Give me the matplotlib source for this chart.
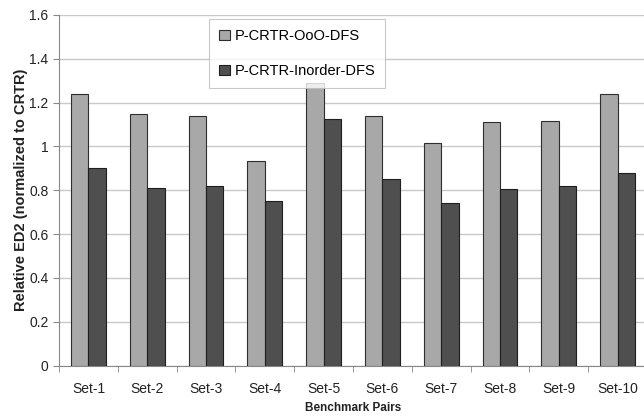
import numpy as np
import matplotlib
matplotlib.use("Agg")
import matplotlib.pyplot as plt
from matplotlib.ticker import FuncFormatter

plt.rcParams["font.family"] = ["Liberation Sans", "DejaVu Sans"]

sets = ["Set-1", "Set-2", "Set-3", "Set-4", "Set-5",
        "Set-6", "Set-7", "Set-8", "Set-9", "Set-10"]
ooo_dfs = [1.24, 1.15, 1.14, 0.935, 1.29, 1.14, 1.015, 1.11, 1.115, 1.24]
inorder_dfs = [0.90, 0.81, 0.82, 0.75, 1.125, 0.85, 0.74, 0.805, 0.82, 0.88]

fig = plt.figure(figsize=(6.44, 4.17), dpi=100)
ax = fig.add_axes([59 / 644, 1 - 365.5 / 417, 588 / 644, 350.5 / 417])

x = np.arange(len(sets))
w = 0.295
ax.bar(x - w / 2, ooo_dfs, w, color="#a8a8a8", edgecolor="#2e2e2e", linewidth=0.8,
       label="P-CRTR-OoO-DFS", zorder=3)
ax.bar(x + w / 2, inorder_dfs, w, color="#4f4f4f", edgecolor="#1e1e1e", linewidth=0.8,
       label="P-CRTR-Inorder-DFS", zorder=3)

ax.set_xlim(-0.5, len(sets) - 0.5)
ax.set_ylim(0, 1.6)
ax.set_yticks(np.arange(0, 1.61, 0.2))
ax.yaxis.set_major_formatter(FuncFormatter(lambda v, p: f"{v:g}"))
ax.grid(axis="y", color="#c8c8c8", linewidth=1.0, zorder=0)

ax.set_xticks(x)
ax.set_xticklabels(sets, fontsize=10, color="#222222")
ax.set_xticks(np.arange(-0.5, len(sets), 1), minor=True)
ax.tick_params(axis="x", which="major", length=0, pad=12)
ax.tick_params(axis="x", which="minor", length=4, color="#888888")
ax.tick_params(axis="y", labelsize=10, length=4, color="#888888", labelcolor="#222222")

for s in ["top", "right"]:
    ax.spines[s].set_visible(False)
ax.spines["left"].set_color("#888888")
ax.spines["bottom"].set_color("#888888")

ax.set_ylabel("Relative ED2 (normalized to CRTR)", fontsize=10.5, fontweight="bold",
              color="#222222", labelpad=1)
ax.set_xlabel("Benchmark Pairs", fontsize=8.5, fontweight="bold", color="#222222",
              labelpad=4)

leg = ax.legend(loc="upper left", bbox_to_anchor=(0.255, 0.989), fontsize=10.5,
                frameon=True, fancybox=False, shadow=False, labelspacing=1.45,
                handlelength=0.75, handleheight=0.75, handletextpad=0.3,
                borderpad=0.7, borderaxespad=0)
leg.get_frame().set_edgecolor("#bbbbbb")
leg.get_frame().set_linewidth(0.8)
leg.set_zorder(5)

fig.savefig("out.png", dpi=100)
